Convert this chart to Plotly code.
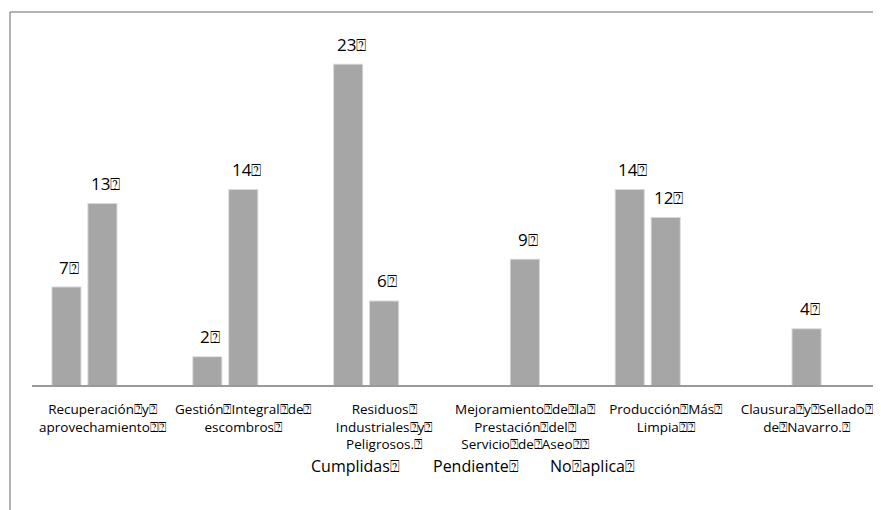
import plotly.graph_objects as go

BOX = "\u2370"
categories = [
    f"Recuperación{BOX}y{BOX}<br>aprovechamiento{BOX}{BOX}",
    f"Gestión{BOX}Integral{BOX}de{BOX}<br>escombros{BOX}",
    f"Residuos{BOX}<br>Industriales{BOX}y{BOX}<br>Peligrosos.{BOX}",
    f"Mejoramiento{BOX}de{BOX}la{BOX}<br>Prestación{BOX}del{BOX}<br>Servicio{BOX}de{BOX}Aseo{BOX}{BOX}",
    f"Producción{BOX}Más{BOX}<br>Limpia{BOX}{BOX}",
    f"Clausura{BOX}y{BOX}Sellado{BOX}<br>de{BOX}Navarro.{BOX}",
]
series_names = ["Cumplidas", "Pendiente", "No aplica"]
cumplidas = [7, 2, 23, 0, 14, 0]
pendiente = [13, 14, 6, 9, 12, 4]
no_aplica = [0, 0, 0, 0, 0, 0]
series_values = [cumplidas, pendiente, no_aplica]

# page body has an 8px margin; compensate so the figure lands like the reference
OFF = 8
W, H = 881, 510
ML, MT = 32 - OFF, 37 - OFF
MR = W - (877 - OFF)
MB = H - (385 - OFF)
PW, PH = W - ML - MR, H - MT - MB
BARGAP, GROUPGAP = 0.234, 0.22

LABEL_FONT = "Open Sans, Lato, sans-serif"
fig = go.Figure()
for name, vals in zip(series_names, series_values):
    fig.add_trace(go.Bar(
        x=categories, y=[v if v else None for v in vals], name=name,
        marker=dict(color="#a6a6a6", line=dict(color="rgba(166,166,166,0.45)", width=2)),
        showlegend=False,
    ))

# data labels as annotations above each bar
cat_px = PW / len(categories)
stride = cat_px * (1 - BARGAP) / len(series_names)
for si, vals in enumerate(series_values):
    off = (si - (len(series_names) - 1) / 2) * stride
    for c, v in zip(categories, vals):
        if v:
            fig.add_annotation(x=c, y=v, xref="x", yref="y", text=f"{v}{BOX}",
                               showarrow=False, xshift=off + 3, yshift=7, yanchor="bottom",
                               font=dict(size=17, color="#000000", family=LABEL_FONT))

# legend (text only, no swatches as in the reference)
legend_px = [355, 476, 592]
for name, lx in zip(series_names, legend_px):
    fig.add_annotation(x=(lx - OFF - ML) / PW, y=(H - (466 - OFF) - MB) / PH,
                       xref="paper", yref="paper",
                       text=name.replace(" ", BOX) + BOX, showarrow=False, yanchor="middle",
                       font=dict(size=16, color="#000000", family=LABEL_FONT))

fig.update_layout(
    width=W, height=H,
    margin=dict(l=ML, r=MR, t=MT, b=MB, autoexpand=False),
    paper_bgcolor="white", plot_bgcolor="white",
    barmode="group", bargap=BARGAP, bargroupgap=GROUPGAP,
    font=dict(family=LABEL_FONT, color="#000000"),
    xaxis=dict(showline=True, linecolor="#9a9a9a", linewidth=2, showgrid=False,
               ticks="outside", ticklen=11, tickcolor="rgba(0,0,0,0)", automargin=False,
               tickfont=dict(size=13.5, family=LABEL_FONT, color="#000000"), tickangle=0),
    yaxis=dict(range=[0, 25], visible=False, showgrid=False, automargin=False),
)
fx = (10 - OFF - ML) / PW
fy = (H - (12 - OFF) - MB) / PH
fig.add_shape(type="line", xref="paper", yref="paper", x0=fx, x1=1.05, y0=fy, y1=fy,
              line=dict(color="#9a9a9a", width=1.5))
fig.add_shape(type="line", xref="paper", yref="paper", x0=fx, x1=fx, y0=fy, y1=-(MB + 5) / PH,
              line=dict(color="#9a9a9a", width=1.5))
fig.write_html("out.html")
